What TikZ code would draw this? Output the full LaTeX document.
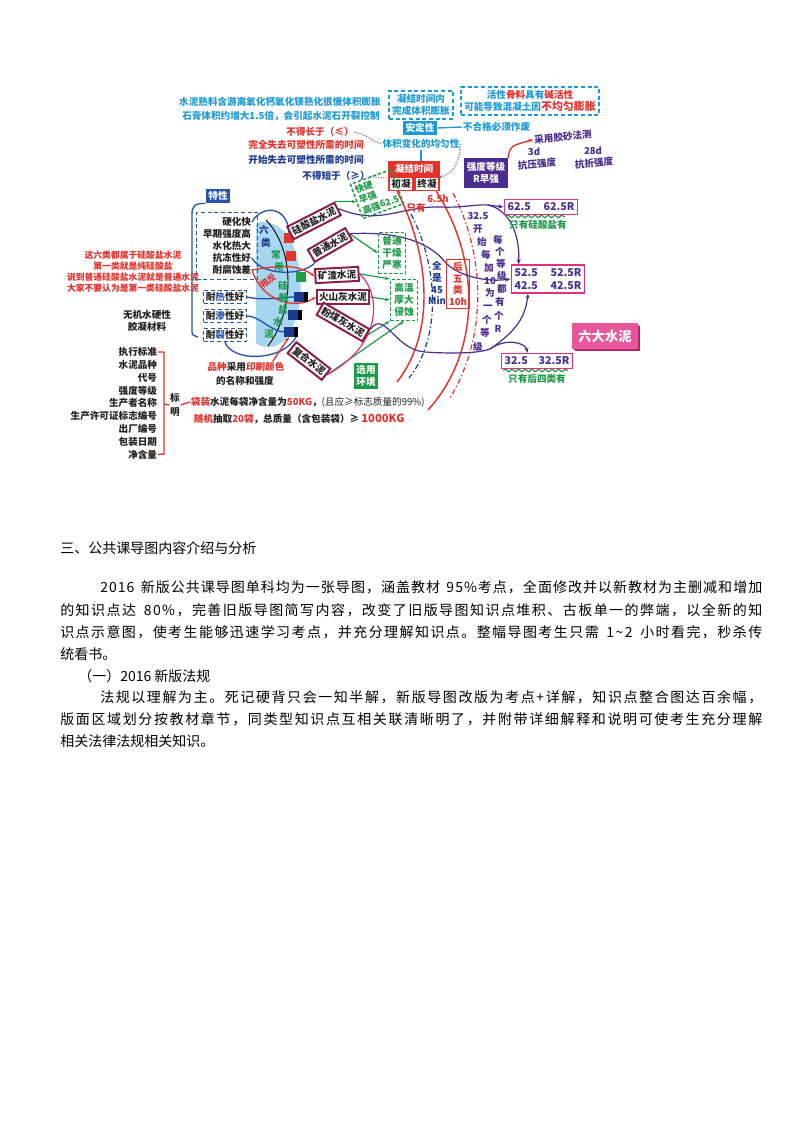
\documentclass[tikz,border=0pt]{standalone}
\usepackage{fontspec}
\setmainfont{Noto Sans CJK SC}
\usetikzlibrary{positioning,fit,backgrounds,shadows,arrows.meta,decorations.pathmorphing}
% glue after every character, so that a line can be justified
\makeatletter
\newcommand\spreadline[1]{\spread@#1\@nil}
\def\spread@#1{\ifx\@nil#1\unskip\else#1\hskip 0pt plus 1pt\relax\expandafter\spread@\fi}
\makeatother

\definecolor{cyanc}{HTML}{1C9AD6}
\definecolor{redc}{HTML}{E5322D}
\definecolor{navyc}{HTML}{1D3A8F}
\definecolor{purc}{HTML}{4A2D8E}
\definecolor{greenc}{HTML}{1E9A48}
\definecolor{maroonc}{HTML}{8A1F4C}
\definecolor{magc}{HTML}{E1307C}
\definecolor{pinkc}{HTML}{E8569B}
\definecolor{pinkd}{HTML}{B8246A}
\definecolor{lbluec}{HTML}{A6D6F0}
\definecolor{bluec}{HTML}{2454AC}
\definecolor{darkc}{HTML}{231F20}

\tikzset{
  mm/.style={font=\fontsize{7.2}{8.8}\selectfont\bfseries, inner sep=0.5pt, align=center},
  ctext/.style={mm, text=cyanc},
  rtext/.style={mm, text=redc},
  ntext/.style={mm, text=navyc},
  ptext/.style={mm, text=purc},
  gtext/.style={mm, text=greenc},
  dtext/.style={mm, text=darkc},
  cbox/.style={draw=cyanc, line width=1.2pt, dash pattern=on 3pt off 2pt, inner sep=2.5pt},
  fillbox/.style={mm, fill=#1, text=white, inner sep=2pt},
  cement/.style={mm, draw=maroonc, line width=1.5pt, fill=white, text=darkc, inner sep=1.8pt},
  valbox/.style={mm, draw=magc, line width=1.1pt, fill=white, text=purc, inner sep=2.5pt,
    font=\fontsize{8}{9.6}\selectfont\bfseries},
  gbox/.style={mm, draw=greenc, line width=1.1pt, dash pattern=on 2.5pt off 1.5pt, text=greenc, inner sep=3pt},
  pbox/.style={draw=bluec, line width=1pt, dash pattern=on 3pt off 2pt, inner sep=1.5pt},
  sq/.style={inner sep=0pt, minimum width=7pt, minimum height=7pt, fill=#1},
  blk/.style={inner sep=0pt, minimum width=3pt, minimum height=7pt, fill=black},
  pline/.style={purc, line width=0.9pt},
  garrow/.style={greenc, line width=0.9pt, -{Stealth[length=3.5pt]}},
  wavy/.style={greenc, line width=0.9pt, decorate, decoration={snake, amplitude=1pt, segment length=5pt}},
  body/.style={anchor=west, inner sep=0pt, font=\fontsize{10.5}{12}\selectfont},
}

\begin{document}
\begin{tikzpicture}[x=0.75pt, y=-0.75pt]
\useasboundingbox (0,0) rectangle (800,1132);

% top notes
\node[ctext] (shuliao) at (280,102) {水泥熟料含游离氧化钙氧化镁熟化很慢体积膨胀};
\node[ctext] (shigao) at (281,116) {石膏体积约增大1.5倍，会引起水泥石开裂控制};
\node[rtext] (budechang) at (320,132) {不得长于（≤）};
\node[rtext] (wanquan) at (306,145) {完全失去可塑性所需的时间};
\node[ntext] (kaishi) at (306,160) {开始失去可塑性所需的时间};
\node[ntext] (budeduan) at (336,176) {不得短于（≥）};
\node[ctext, cbox] (neibox) at (421,105) {凝结时间内\\完成体积膨胀};
\node[ctext, cbox] (huoxing) at (530,101) {活性\textcolor{redc}{骨料}具有\textcolor{redc}{碱活性}\\可能导致混凝土因\textcolor{redc}{\fontsize{8.2}{9}\selectfont 不均匀膨胀}};
\node[fillbox=cyanc] (anding) at (420,128) {安定性};
\node[ctext, anchor=west] (zuofei) at (462,127) {不合格必须作废};
\node[ctext] (junyun) at (421,144) {体积变化的均匀性};

% setting time and strength
\node[fillbox=redc, minimum width=39pt, minimum height=22.5pt] (ningjie) at (414,176) {};
\node[mm, text=white] (ningjietxt) at (414,169) {凝结时间};
\node[mm, fill=white, text=darkc, inner sep=1pt] (chuning) at (401,184) {初凝};
\node[mm, fill=white, text=darkc, inner sep=1pt] (zhongning) at (427,184) {终凝};
\node[rtext] (zhiyou) at (416,208) {只有};
\node[rtext] (liuwu) at (438,199) {6.5h};
\node[fillbox=purc, minimum width=32pt, minimum height=22pt] (qiangdu) at (486,173) {强度等级\\R早强};
\node[ptext, rotate=5] (caiyong) at (563,137) {采用胶砂法测};
\node[ptext] (sand) at (534,152) {3d};
\node[ptext, rotate=5] (kangya) at (537,164) {抗压强度};
\node[ptext] (ershiba) at (593,151) {28d};
\node[ptext, rotate=5] (kangzhe) at (594,163) {抗折强度};

% properties
\node[fillbox=bluec] (texing) at (218,196) {特性};
\node[dtext, anchor=east] (yinghua) at (252,222) {硬化快};
\node[dtext, anchor=east] (zaoqi) at (252,234) {早期强度高};
\node[dtext, anchor=east] (shuihua) at (252,246) {水化热大};
\node[dtext, anchor=east] (kangdong) at (252,258) {抗冻性好};
\node[dtext, anchor=east] (naifushi) at (252,270) {耐腐蚀差};
\node[pbox, fit=(yinghua)(zaoqi)(naifushi), inner xsep=4pt, inner ysep=3pt] (texingbox) {};
\node[dtext, pbox] (nairebox) at (225,297) {耐\textcolor{bluec}{热}性好};
\node[dtext, pbox] (naishenbox) at (225,316) {耐\textcolor{bluec}{渗}性好};
\node[dtext, pbox] (nailiebox) at (225,335) {耐\textcolor{bluec}{裂}性好};
\node[rtext, font=\fontsize{6.6}{8.2}\selectfont\bfseries] (liulei) at (133,272) {这六类都属于硅酸盐水泥\\第一类就是纯硅酸盐\\说到普通硅酸盐水泥就是普通水泥\\大家不要认为是第一类硅酸盐水泥};
\node[dtext] (wuji) at (147,321) {无机水硬性\\胶凝材料};

% six cements
\foreach \c/\x/\y/\col [count=\i] in {六/264/230/navyc, 类/266/243/navyc, 常/276/255/greenc, 用/279/267/greenc,
  硅/283/286/greenc, 酸/284/298/greenc, 盐/283/310/greenc, 水/278/322/greenc, 泥/269/334/greenc}
  \node[mm, text=\col] (ech\i) at (\x,\y) {\c};
\node[rtext, rotate=35, font=\fontsize{6.5}{7}\selectfont\bfseries] (xiangfan) at (268,281) {相反};
\node[sq=redc] (sqr1) at (289,238) {};
\node[sq=redc] (sqr2) at (291,256) {};
\node[sq=greenc] (sqg) at (301,277) {};
\node[sq=navyc] (sqn1) at (299,297) {};
\node[blk, right=0pt of sqn1] (sqk1) {};
\node[sq=navyc] (sqn2) at (293,315) {};
\node[blk, right=0pt of sqn2] (sqk2) {};
\node[sq=navyc] (sqn3) at (289,332) {};
\node[blk, right=0pt of sqn3] (sqk3) {};

\node[cement, rotate=27] (guisuan) at (314,221) {硅酸盐水泥};
\node[cement, rotate=30] (putong) at (330,245) {普通水泥};
\node[cement, rotate=3] (kuangzha) at (337,275) {矿渣水泥};
\node[cement] (huoshan) at (343,297) {火山灰水泥};
\node[cement, rotate=-30] (fenmei) at (343,322) {粉煤灰水泥};
\node[cement, rotate=-38] (fuhe) at (309,361) {复合水泥};

% use environment
\node[gbox, rotate=20, align=left, inner sep=2pt, font=\fontsize{6.8}{8.4}\selectfont\bfseries] (gb1) at (377,194) {快硬\\早强\\高强62.5};
\node[gbox] (gb2) at (392,253) {普通\\干燥\\严寒};
\node[gbox] (gb3) at (404,300) {高温\\厚大\\侵蚀};
\node[fillbox=greenc] (xuanyong) at (366,376) {选用\\环境};

% strength grades
\node[ntext] (quan) at (437,283) {全\\是\\45\\Min};
\node[rtext, draw=redc, line width=0.9pt, inner sep=2pt] (houwu) at (458,284) {后\\五\\类\\10h};
\foreach \t/\x/\y [count=\i] in {32.5/478/216, 开/478/229, 始/482/242, 每/486/255, 加/489/268, 10/490/281,
  为/490/293, 一/488/307, 个/487/320, 等/485/333, 级/478/347}
  \node[ptext] (kai\i) at (\x,\y) {\t};
\foreach \t/\x/\y [count=\i] in {每/498/240, 个/500/252, 等/501/264, 级/502/276, 都/502/289, 有/500/302, 个/499/316, R/498/329}
  \node[ptext] (mei\i) at (\x,\y) {\t};
\node[valbox] (v625) at (541,207) {62.5\hspace{1.2em}62.5R};
\node[gtext] (onlygui) at (538,225) {只有硅酸盐有};
\node[valbox, align=left] (v525) at (548,279) {52.5\hspace{1.2em}52.5R\\42.5\hspace{1.2em}42.5R};
\node[valbox] (v325) at (537,361) {32.5\hspace{1em}32.5R};
\node[gtext] (onlyhou) at (537,379) {只有后四类有};
\node[fillbox=pinkc, font=\fontsize{10}{11}\selectfont\bfseries, minimum width=49pt, minimum height=19pt,
  double copy shadow={shadow xshift=1pt, shadow yshift=-1pt, fill=pinkd, draw=none}] (liuda) at (605,336) {六大水泥};

% label
\foreach \t [count=\i] in {执行标准,水泥品种,代号,强度等级,生产者名称,生产许可证标志编号,出厂编号,包装日期,净含量}
  \node[dtext, anchor=east] (lab\i) at (158,{352+12.8*(\i-1)}) {\t};
\coordinate (brtop) at (164,352);
\coordinate (brbot) at (164,454);
\coordinate (brmid) at (164,404);
\node[dtext, font=\fontsize{7.2}{10.4}\selectfont\bfseries] (biaoming) at (175,405) {标\\明};
\node[dtext, anchor=west] (daizhuang) at (190,402) {\textcolor{redc}{袋装}水泥每袋净含量为\textcolor{redc}{50KG}，{\mdseries (且应≥标志质量的99\%)}};
\node[dtext, anchor=west] (suiji) at (193,419) {\textcolor{redc}{随机}抽取\textcolor{redc}{20袋}，总质量（含包装袋）≥ \textcolor{redc}{\fontsize{8.4}{9}\selectfont 1000KG}};
\node[dtext] (pinzhong) at (246,367) {\textcolor{redc}{品种}采用\textcolor{redc}{印刷颜色}};
\node[dtext] (mingcheng) at (245,381) {的名称和强度};

% body text
\node[body] (h3) at (60,548) {三、公共课导图内容介绍与分析};
\node[body] (p1) at (100,587) {\makebox[496.5pt][s]{\spreadline{2016\ 新版公共课导图单科均为一张导图，涵盖教材\ 95\%考点，全面修改并以新教材为主删减和增加}}};
\node[body] (p2) at (60,610) {\makebox[526.5pt][s]{\spreadline{的知识点达\ 80\%，完善旧版导图简写内容，改变了旧版导图知识点堆积、古板单一的弊端，以全新的知}}};
\node[body] (p3) at (60,632) {\makebox[526.5pt][s]{\spreadline{识点示意图，使考生能够迅速学习考点，并充分理解知识点。整幅导图考生只需\ 1\textasciitilde2\ 小时看完，秒杀传}}};
\node[body] (p4) at (60,654) {统看书。};
\node[body] (p5) at (78,676) {（一）2016 新版法规};
\node[body] (p6) at (100,697) {\makebox[496.5pt][s]{\spreadline{法规以理解为主。死记硬背只会一知半解，新版导图改版为考点+详解，知识点整合图达百余幅，}}};
\node[body] (p7) at (60,719) {\makebox[526.5pt][s]{\spreadline{版面区域划分按教材章节，同类型知识点互相关联清晰明了，并附带详细解释和说明可使考生充分理解}}};
\node[body] (p8) at (60,741) {相关法律法规相关知识。};

\begin{scope}[on background layer]
\fill[white] (0,0) rectangle (800,1132);
% oval of the six cements
\fill[lbluec] (256,224) .. controls (262,218) and (285,222) .. (295,250) .. controls (305,280) and (302,320) .. (285,340)
  .. controls (275,350) and (262,348) .. (256,343) -- cycle;
\draw[black, line width=0.7pt] (266,220) .. controls (295,250) and (295,310) .. (268,346);
% setting time arcs
\draw[redc, line width=1.1pt] ([xshift=7pt]ningjie.south west) .. controls (432,260) and (434,335) .. (397,382);
\draw[navyc, line width=0.9pt, dash pattern=on 4pt off 2pt on 1pt off 2pt] (411,214) .. controls (440,270) and (440,340) .. (409,378);
\draw[redc, line width=1.1pt] ([xshift=-3pt]ningjie.south east) .. controls (480,260) and (482,350) .. (428,410);
\draw[redc, line width=0.9pt, dash pattern=on 4pt off 2pt on 1pt off 2pt] (453,193) .. controls (485,255) and (488,335) .. (450,398);
% cyan and dotted links
\draw[cyanc, line width=1pt] (anding.east) -- (zuofei.west);
\draw[cyanc, line width=1pt] (junyun.south) -- (junyun.south |- ningjie.north);
\draw[gray, line width=0.9pt, densely dotted] (budechang.east) .. controls (370,136) and (375,143) .. (junyun.west);
\draw[gray, line width=0.9pt, densely dotted] (budeduan.east) .. controls (376,178) and (382,178) .. (chuning.north west);
\draw[gray, line width=0.9pt, densely dotted, -{Stealth[length=3pt]}] (junyun.east) .. controls (460,155) and (458,172) .. (zhongning.north east);
\draw[redc, line width=1pt, -{Stealth[length=3.5pt]}] (qiangdu.north east) .. controls (510,146) .. (caiyong.west);
% properties bracket and links
\draw[bluec, line width=1pt] (texing.south west) .. controls (195,203) and (192,206) .. (192,214) -- (192,330)
  .. controls (192,335) .. (198,337);
\draw[bluec, line width=1pt] (yinghua.east) .. controls (262,204) and (288,206) .. (sqr1.north);
\draw[bluec, line width=1pt] (kangdong.east) .. controls (262,276) and (302,276) .. (putong.south west);
\draw[bluec, line width=1pt] (nairebox.east) .. controls (265,301) and (282,297) .. (sqn1.west);
\draw[bluec, line width=1pt] (naishenbox.east) .. controls (260,316) and (268,330) .. (sqn3.west);
\draw[bluec, line width=1pt] (nailiebox.south) .. controls (232,362) and (282,362) .. (sqk3.south);
\draw[redc, line width=1pt, -{Stealth[length=3pt]}] (naifushi.east) .. controls (262,302) and (296,310) .. (huoshan.west);
\draw[redc, line width=1pt, -{Stealth[length=3pt]}] (naifushi.east) .. controls (286,264) and (300,266) .. (kuangzha.west);
\draw[redc, line width=1pt, -{Stealth[length=3.5pt]}] ([xshift=20pt]pinzhong.north) -- (sqn3.south);
% cements to environment
\draw[garrow] (guisuan.north east) -- (gb1.west);
\draw[garrow] (putong.east) -- (gb2.west);
\draw[garrow] (kuangzha.east) -- (gb3.north west);
\draw[garrow] (huoshan.east) -- (gb3.west);
\draw[garrow] (fenmei.east) -- (gb3.south west);
\draw[garrow] (fuhe.east) -- (gb3.south);
\draw[magc, line width=0.9pt] (kuangzha.east) .. controls (382,295) and (382,345) .. (fuhe.east);
% cements to grades
\coordinate (split1) at (488,205);
\coordinate (split3) at (490,349);
\draw[pline, -{Stealth[length=4pt]}] (guisuan.east) .. controls (380,226) and (400,206) .. (440,207)
  .. controls (465,208) and (475,204) .. (split1) -- (v625.west);
\draw[pline, -{Stealth[length=4pt]}] (split1) .. controls (510,210) and (520,235) .. ([xshift=6pt]v525.north west);
\draw[pline, -{Stealth[length=4pt]}] (putong.east) .. controls (400,231) and (430,243) .. (445,262)
  .. controls (460,278) and (490,282) .. (v525.west);
\draw[pline] (fenmei.north east) .. controls (385,310) and (395,350) .. (425,352) .. controls (455,354) and (480,353) .. (split3);
\draw[pline, -{Stealth[length=4pt]}] (split3) .. controls (505,338) and (525,342) .. ([xshift=-7pt]v325.north);
\draw[pline, -{Stealth[length=4pt]}] (split3) .. controls (510,335) and (525,322) .. ([xshift=-15pt]v525.south);
\draw[wavy] ([xshift=2pt,yshift=-1pt]v625.south west) -- ([xshift=-10pt,yshift=-1pt]v625.south east);
\draw[wavy] ([xshift=2pt,yshift=-1pt]v325.south west) -- ([xshift=-4pt,yshift=-1pt]v325.south east);
% label bracket
\draw[redc, line width=1pt] (lab1.east) -- (brtop) -- (brbot) -- (lab9.east);
\draw[redc, line width=1pt] (brmid) -- (biaoming.west);
\draw[redc, line width=1pt] (biaoming.east) -- (daizhuang.west);
\end{scope}
\end{tikzpicture}
\end{document}
